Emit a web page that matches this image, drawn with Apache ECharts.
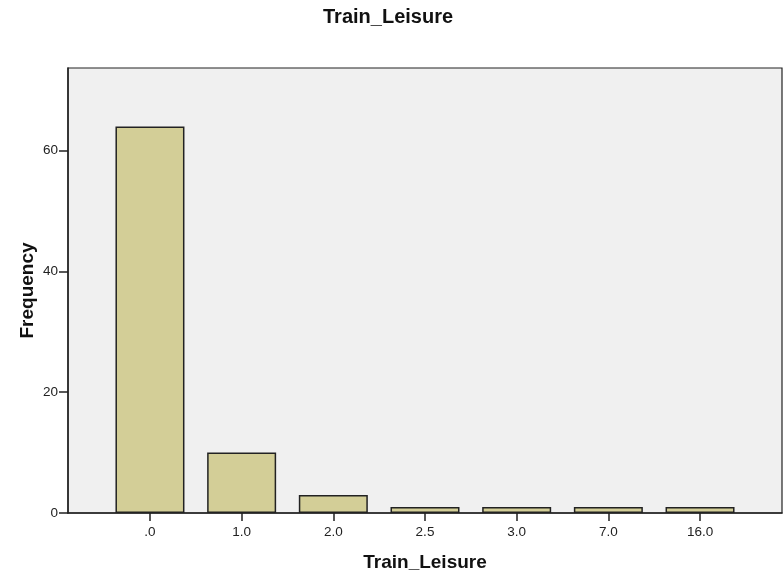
<!DOCTYPE html>
<html>
<head>
<meta charset="utf-8">
<script src="https://cdn.jsdelivr.net/npm/echarts@6/dist/echarts.min.js"></script>
<style>
  html, body { margin: 0; padding: 0; background: #fff; }
  #chart { width: 784px; height: 574px; }
</style>
</head>
<body>
<div id="chart"></div>
<script>
  const categories = ['.0', '1.0', '2.0', '2.5', '3.0', '7.0', '16.0']
  const frequency = [64, 10, 3, 1, 1, 1, 1]
  const yTicks = [0, 20, 40, 60]

  // bars sit on a value x axis so the outer padding can match the reference
  const barData = frequency.map((v, i) => [i, v])

  const mychart = echarts.init(document.getElementById('chart'), null, { renderer: 'canvas' })
  const option = {
    animation: false,
    textStyle: { fontFamily: 'Liberation Sans, Arial, sans-serif' },
    title: {
      text: 'Train_Leisure',
      left: 318,
      top: 2,
      textStyle: { fontSize: 20, fontWeight: 'bold', color: '#111' }
    },
    grid: {
      left: 68, top: 68, right: 2, bottom: 61,
      outerBoundsMode: 'none',
      show: true,
      backgroundColor: '#f0f0f0',
      borderColor: '#222',
      borderWidth: 1.2
    },
    xAxis: {
      type: 'value',
      min: -0.894,
      max: categories.length - 1 + 0.894,
      name: 'Train_Leisure',
      nameLocation: 'middle',
      nameGap: 40,
      nameMoveOverlap: false,
      nameTextStyle: { fontSize: 19, fontWeight: 'bold', color: '#111' },
      axisLine: { show: true, onZero: false, lineStyle: { color: '#222', width: 1.5 } },
      axisTick: { show: true, inside: false, length: 8, lineStyle: { color: '#222', width: 1.5 }, customValues: categories.map((c, i) => i) },
      axisLabel: {
        color: '#222', fontSize: 13.5, margin: 12,
        customValues: categories.map((c, i) => i),
        formatter: v => categories[Math.round(v)] ?? ''
      },
      splitLine: { show: false }
    },
    yAxis: {
      type: 'value',
      min: 0,
      max: 73.7,
      name: 'Frequency',
      nameLocation: 'middle',
      nameGap: 31,
      nameMoveOverlap: false,
      nameRotate: 90,
      nameTextStyle: { fontSize: 19, fontWeight: 'bold', color: '#111' },
      axisLine: { show: true, onZero: false, lineStyle: { color: '#222', width: 1.5 } },
      axisTick: { show: true, inside: false, length: 9, lineStyle: { color: '#222', width: 1.5 }, customValues: yTicks },
      axisLabel: { color: '#222', fontSize: 13.5, margin: 10, customValues: yTicks },
      splitLine: { show: false }
    },
    series: [
      {
        type: 'bar',
        data: barData,
        barWidth: 69,
        itemStyle: {
          color: '#d3ce97',
          borderColor: '#222',
          borderWidth: 1.5
        }
      }
    ]
  }
  mychart.setOption(option)
</script>
</body>
</html>
